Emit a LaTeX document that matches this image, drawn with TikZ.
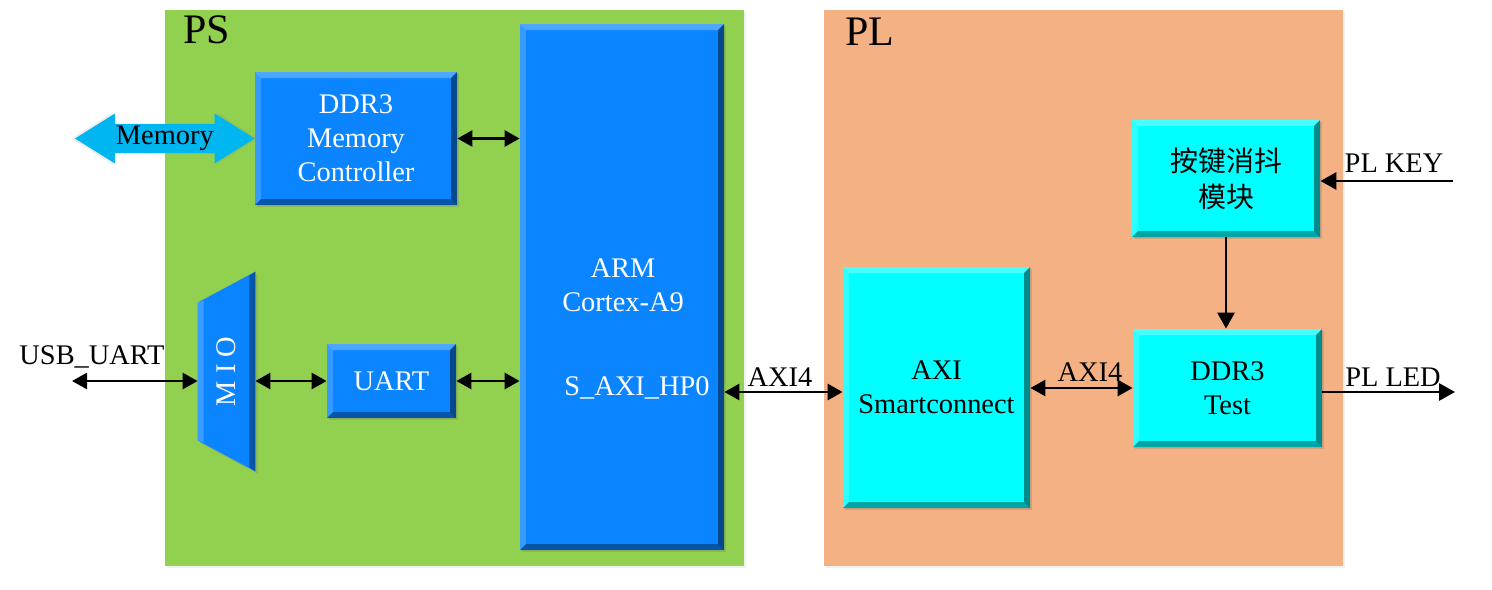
\documentclass[tikz,border=0pt]{standalone}
\usepackage{fontspec}
\setmainfont{Liberation Serif}
\newfontfamily\cjk{Noto Sans CJK SC}
\usetikzlibrary{arrows.meta,calc,shadows}
\definecolor{psgreen}{HTML}{92D050}
\definecolor{plorange}{HTML}{F4B183}
\definecolor{cpublue}{HTML}{0A84FF}
\definecolor{ipcyan}{HTML}{00FFFF}
\definecolor{memblue}{HTML}{00B6F0}
\tikzset{
  reg/.style={draw=none},
  % bevel: light strips top/left, dark strips bottom/right
  bev/.style={path picture={
    \fill[white,opacity=.28] (path picture bounding box.north west) -- (path picture bounding box.north east)
      -- ([shift={(-3pt,-3pt)}]path picture bounding box.north east) -- ([shift={(3pt,-3pt)}]path picture bounding box.north west) -- cycle;
    \fill[white,opacity=.18] (path picture bounding box.north west) -- ([shift={(3pt,-3pt)}]path picture bounding box.north west)
      -- ([shift={(3pt,3pt)}]path picture bounding box.south west) -- (path picture bounding box.south west) -- cycle;
    \fill[black,opacity=.35] (path picture bounding box.south west) -- (path picture bounding box.south east)
      -- ([shift={(-3pt,3pt)}]path picture bounding box.south east) -- ([shift={(3pt,3pt)}]path picture bounding box.south west) -- cycle;
    \fill[black,opacity=.45] (path picture bounding box.north east) -- (path picture bounding box.south east)
      -- ([shift={(-3pt,3pt)}]path picture bounding box.south east) -- ([shift={(-3pt,-3pt)}]path picture bounding box.north east) -- cycle;
  }},
  pb/.style={rectangle,fill=cpublue,text=white,align=center,inner sep=0pt,
    font=\fontsize{14.2}{17}\selectfont,bev,
    drop shadow={shadow xshift=1.2pt,shadow yshift=-1.2pt,opacity=.3}},
  cb/.style={pb,fill=ipcyan,text=black},
  sz/.style 2 args={minimum width=#1*.5pt,minimum height=#2*.5pt},
  bus/.style={{Triangle[length=7.5pt,width=8pt]}-{Triangle[length=7.5pt,width=8pt]},line width=1.4pt},
  sig/.style={-{Triangle[length=8pt,width=8.5pt]},line width=1.4pt},
  lb/.style={font=\fontsize{14.2}{17}\selectfont,anchor=base},
  tb/.style={font=\fontsize{21}{25}\selectfont,anchor=base},
  memarr/.style={fill=memblue,drop shadow={shadow xshift=0pt,shadow yshift=0pt,opacity=.15,shadow scale=1.04}},
}

\begin{document}
\begin{tikzpicture}[x=.5pt,y=-.5pt]
\useasboundingbox (0,0) rectangle (1492,589);
% ---------- regions ----------
\fill[psgreen,drop shadow={shadow xshift=1pt,shadow yshift=-1pt,opacity=.12}] (165,10) rectangle (744,566);
\fill[plorange,drop shadow={shadow xshift=1pt,shadow yshift=-1pt,opacity=.12}] (824,10) rectangle (1343,566);
\node[tb] (pst) at (207,43) {PS};
\node[tb] (plt) at (870,45) {PL};
% ---------- PS side ----------
\node[pb,sz={202}{133}] (ddr) at (356,138.5) {DDR3\\Memory\\Controller};
\node[pb,sz={204}{526}] (arm) at (622,287) {};
\node[lb,text=white,align=center,anchor=center] (armt) at (623,285) {ARM\\Cortex-A9};
\node[lb,text=white] (hpt) at (637,395) {S\_AXI\_HP0};
\node[pb,sz={129}{74}] (uart) at (391.5,381) {UART};
\node[sz={57}{199},inner sep=0pt] (mio) at (226.5,371.5) {};
\fill[cpublue,drop shadow={shadow xshift=1.2pt,shadow yshift=-1.2pt,opacity=.3}]
  (mio.north east) -- (mio.south east) -- ($(mio.south west)+(0,-31)$) -- ($(mio.north west)+(0,31)$) -- cycle;
\fill[white,opacity=.2] ($(mio.north west)+(0,31)$) -- ($(mio.north west)+(6,29)$) -- ($(mio.south west)+(6,-29)$) -- ($(mio.south west)+(0,-31)$) -- cycle;
\fill[black,opacity=.35] (mio.north east) -- (mio.south east) -- ($(mio.south east)+(-6,-4)$) -- ($(mio.north east)+(-6,4)$) -- cycle;
\node[lb,text=white,anchor=center,rotate=90] (miot) at (mio.center) {M I O};
% memory port
\coordinate (meml) at (75,138.5);
\fill[memarr] (meml) -- ($(meml)+(40,-25)$) -- ($(meml)+(40,-14.5)$) -- ($(ddr.west)+(-40,-14.5)$)
  -- ($(ddr.west)+(-40,-25)$) -- (ddr.west) -- ($(ddr.west)+(-40,25)$) -- ($(ddr.west)+(-40,14.5)$)
  -- ($(meml)+(40,14.5)$) -- ($(meml)+(40,25)$) -- cycle;
\node[lb,anchor=center] (memt) at ($(meml)!.5!(ddr.west)$) {Memory};
\draw[bus] (ddr.east) -- (ddr.east -| arm.west);
\draw[bus] (uart.east) -- (uart.east -| arm.west);
\draw[bus] (uart.west) -- (uart.west -| mio.east);
\coordinate (usb) at (72,381);
\draw[bus] (usb) -- (usb -| mio.west);
\node[lb] (usbt) at (92,364) {USB\_UART};
% ---------- PL side ----------
\node[cb,sz={187}{241}] (axi) at (936.5,387.5) {AXI\\Smartconnect};
\node[cb,sz={189}{118}] (tst) at (1227.5,388) {DDR3\\Test};
\node[cb,sz={188}{117},font=\cjk\fontsize{14}{18}\selectfont] (key) at (1226,178.5) {按键消抖\\模块};
\coordinate (hp) at (724,392);
\draw[bus] (hp -| arm.east) -- (hp -| axi.west);
\node[lb] (ax1) at (780,386) {AXI4};
\draw[bus] (axi.east |- tst.west) -- (tst.west);
\node[lb] (ax2) at (1090,381) {AXI4};
\draw[sig] (key.south) -- (key.south |- tst.north);
\coordinate (kin) at (1453,181);
\draw[sig] (kin) -- (kin -| key.east);
\node[lb] (kint) at (1394,172) {PL KEY};
\coordinate (lout) at (1455,392);
\draw[sig] (lout -| tst.east) -- (lout);
\node[lb] (loutt) at (1393,386) {PL LED};
\end{tikzpicture}
\end{document}
